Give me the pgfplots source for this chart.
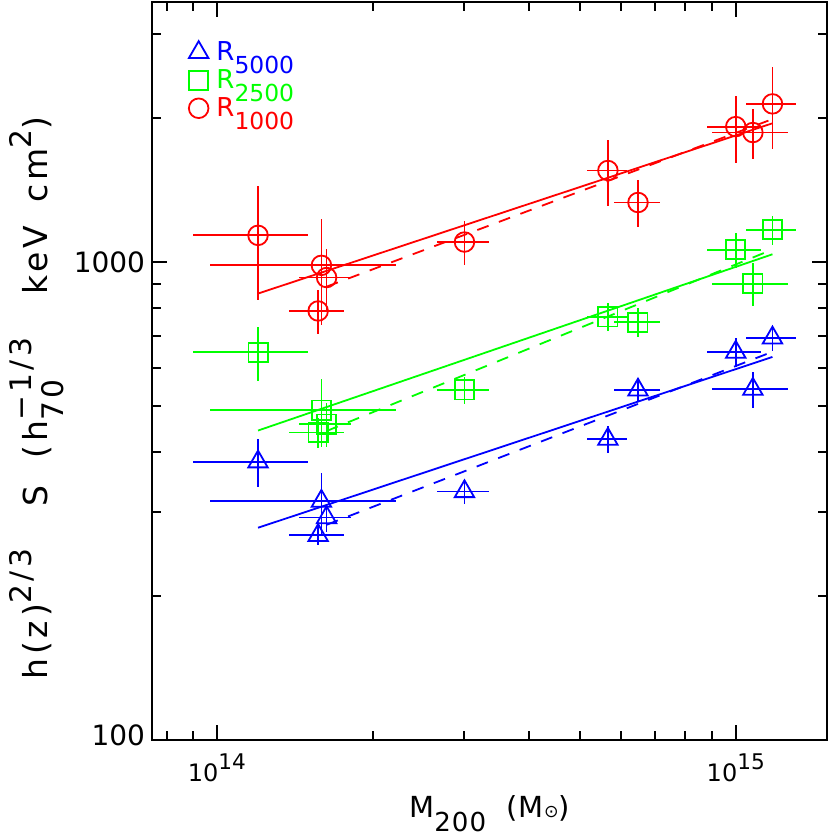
\documentclass[border=0pt]{standalone}
\usepackage{fontspec}
\setmainfont{DejaVu Sans}
\usepackage{graphicx}
\usepackage{pgfplots}
\pgfplotsset{compat=1.18}

\definecolor{idlblue}{RGB}{0,0,255}
\definecolor{idlgreen}{RGB}{0,255,0}
\definecolor{idlred}{RGB}{255,0,0}

% sub/superscripts set in the text font, nearly full size as in the original
\newcommand{\Sb}[1]{\raisebox{-0.9ex}{\scalebox{0.9}{#1}}}
\newcommand{\Sp}[1]{\raisebox{0.9ex}{\scalebox{0.9}{#1}}}

\pgfplotsset{
  pts/.style={only marks, line width=0.9pt, mark options={solid, line width=0.9pt},
    error bars/x dir=both, error bars/x explicit,
    error bars/y dir=both, error bars/y explicit,
    error bars/error mark=none,
    error bars/error bar style={line width=0.9pt}},
  fit/.style={line width=0.9pt, forget plot},
  fitd/.style={line width=0.9pt, forget plot, dash pattern=on 6pt off 5.5pt},
}

\begin{document}
\begin{tikzpicture}[font=\fontsize{13}{15}\selectfont]
\begin{axis}[
  xmode=log, ymode=log,
  scale only axis,
  width=337.5pt, height=369pt,
  xmin=7.5e13, xmax=1.5e15,
  ymin=100, ymax=3500,
  xtick={1e14,1e15},
  xticklabels={10\Sp{14},10\Sp{15}},
  minor xtick={8e13,9e13,2e14,3e14,4e14,5e14,6e14,7e14,8e14,9e14},
  ytick={100,1000},
  yticklabels={\raisebox{5pt}{100},1000},
  minor ytick={200,300,400,500,600,700,800,900,2000,3000},
  major tick length=7.5pt, minor tick length=4.5pt,
  tick style={black, line width=1pt},
  axis line style={line width=1pt},
  xticklabel style={yshift=-3.5pt, font=\fontsize{12}{14}\selectfont},
  yticklabel style={font=\fontsize{14}{16}\selectfont},
  xlabel={\fontsize{14.5}{16}\selectfont\addfontfeatures{LetterSpace=4}%
    M\Sb{200}\hspace{0.7em}(M\scalebox{0.6}{⊙})},
  ylabel={\fontsize{16.5}{18}\selectfont\addfontfeatures{LetterSpace=12}%
    h(z)\Sp{2/3}\hspace{1.3em}S\hspace{0.8em}(h\rlap{\Sb{70}}\Sp{−1/3}\hspace{1.3em}keV\hspace{0.7em}cm\Sp{2})},
  xlabel style={at={(axis description cs:0.5,-0.1)}, anchor=center},
  ylabel style={at={(axis description cs:-0.171,0.463)}, anchor=center},
  legend cell align=left,
  legend image code/.code={\draw[#1] plot coordinates {(0.3cm,0cm)};},
  legend style={draw=none, fill=none, at={(rel axis cs:0.045,0.958)}, anchor=north west,
    font=\fontsize{13}{15}\selectfont, row sep=-1pt,
    /tikz/every odd column/.append style={column sep=2pt}},
]

% R5000
\addplot[idlblue, pts, mark=triangle, mark size=5.6pt] coordinates {
  (1.2e14,382)   +- (3.0e13,44)
  (1.59e14,316)  +- (6.2e13,46)
  (1.627e14,292) +- (1.9e13,19)
  (1.567e14,268) +- (1.9e13,12)
  (3.0e14,331)   +- (3.4e13,19)
  (5.67e14,426)  +- (5.0e13,27)
  (6.48e14,540)  +- (6.6e13,29)
  (1.0e15,648)   +- (1.2e14,45)
  (1.079e15,542) +- (1.8e14,48)
  (1.177e15,694) +- (1.3e14,43)
};
\addlegendentry{\textcolor{idlblue}{R\Sb{5000}}}

% R2500
\addplot[idlgreen, pts, mark=square, mark size=4.8pt] coordinates {
  (1.2e14,647)    +- (3.0e13,83)
  (1.59e14,490)   +- (6.2e13,80)
  (1.627e14,458)  +- (1.9e13,48)
  (1.567e14,440)  +- (1.9e13,32)
  (3.0e14,540)    +- (3.4e13,35)
  (5.67e14,768)   +- (5.0e13,52)
  (6.48e14,748)   +- (6.6e13,52)
  (1.0e15,1061)   +- (1.2e14,88)
  (1.079e15,901)  +- (1.8e14,93)
  (1.177e15,1168) +- (1.3e14,80)
};
\addlegendentry{\textcolor{idlgreen}{R\Sb{2500}}}

% R1000
\addplot[idlred, pts, mark=o, mark size=4.9pt] coordinates {
  (1.2e14,1137)   +- (3.0e13,305)
  (1.59e14,984)   +- (6.2e13,245)
  (1.627e14,928)  +- (1.9e13,135)
  (1.567e14,790)  +- (1.9e13,82)
  (3.0e14,1101)   +- (3.4e13,117)
  (5.67e14,1554)  +- (5.0e13,247)
  (6.48e14,1332)  +- (6.6e13,150)
  (1.0e15,1920)   +- (1.2e14,310)
  (1.079e15,1866) +- (1.8e14,225)
  (1.177e15,2142) +- (1.3e14,420)
};
\addlegendentry{\textcolor{idlred}{R\Sb{1000}}}

% fits
\addplot[idlblue, fit]   coordinates {(1.2e14,278) (1.177e15,633)};
\addplot[idlblue, fitd]  coordinates {(1.627e14,282) (1.177e15,649)};
\addplot[idlgreen, fit]  coordinates {(1.2e14,444) (1.177e15,1038)};
\addplot[idlgreen, fitd] coordinates {(1.627e14,443) (1.177e15,1062)};
\addplot[idlred, fit]    coordinates {(1.2e14,859) (1.177e15,1951)};
\addplot[idlred, fitd]   coordinates {(1.627e14,888) (1.177e15,1991)};

\coordinate (ll) at (rel axis cs:0,0);
\coordinate (ur) at (rel axis cs:1,1);
\end{axis}
\pgfresetboundingbox
\path ([shift={(-76pt,-48.5pt)}]ll) rectangle ([shift={(1.5pt,1pt)}]ur);
\end{tikzpicture}
\end{document}
